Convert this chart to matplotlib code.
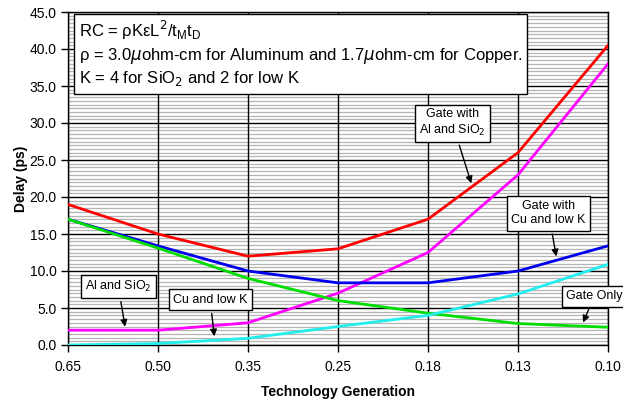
import matplotlib.pyplot as plt
import numpy as np
from matplotlib.ticker import MultipleLocator, FormatStrFormatter

plt.rcParams['font.family'] = ['Liberation Sans', 'DejaVu Sans']

generations = ['0.65', '0.50', '0.35', '0.25', '0.18', '0.13', '0.10']

gate_al_sio2 = [19.0, 15.0, 12.0, 13.0, 17.0, 26.0, 40.5]
al_sio2 = [2.0, 2.0, 3.0, 7.0, 12.5, 23.0, 38.0]
gate_cu_lowk = [17.0, 13.4, 10.0, 8.4, 8.4, 10.0, 13.4]
gate_only = [17.0, 13.1, 9.0, 6.0, 4.3, 2.9, 2.4]
cu_lowk = [0.0, 0.2, 0.9, 2.5, 4.0, 6.9, 10.9]

fig = plt.figure(figsize=(6.23, 4.0), dpi=100)
ax = fig.add_axes([0.109, 0.1375, 0.867, 0.8325])

x = np.arange(len(generations))

# grid: light minor lines every 0.5, black major lines
ax.yaxis.set_major_locator(MultipleLocator(5))
ax.yaxis.set_minor_locator(MultipleLocator(0.5))
ax.yaxis.set_major_formatter(FormatStrFormatter('%.1f'))
ax.grid(which='minor', axis='y', color='#b4b4b4', lw=0.9, zorder=0)
ax.grid(which='major', axis='y', color='black', lw=1.0, zorder=0.5)
for xi in x:
    ax.axvline(xi, color='black', lw=1.0, zorder=0.6)
ax.set_axisbelow(True)

ax.plot(x, gate_al_sio2, color='#ff0000', lw=2, zorder=3)
ax.plot(x, al_sio2, color='#ff00ff', lw=2, zorder=3)
ax.plot(x, gate_cu_lowk, color='#0000ee', lw=2, zorder=3)
ax.plot(x, gate_only, color='#00dd00', lw=2, zorder=3)
ax.plot(x, cu_lowk, color='#22eeee', lw=2, zorder=3)

ax.set_xlim(0, 6)
ax.set_ylim(0, 45)
ax.set_xticks(x)
ax.set_xticklabels(generations)
ax.tick_params(axis='both', which='major', direction='out', length=5, width=1,
               labelsize=10)
ax.tick_params(axis='x', pad=6)
ax.tick_params(axis='y', pad=3)
ax.tick_params(axis='y', which='minor', length=0)
for s in ax.spines.values():
    s.set_linewidth(1.0)

ax.set_xlabel('Technology Generation', fontsize=10, fontweight='bold', labelpad=8)
ax.set_ylabel('Delay (ps)', fontsize=10, fontweight='bold', labelpad=1)

box = dict(boxstyle='square,pad=0.35', fc='white', ec='black', lw=1)
ax.text(0.12, 44.0,
        'RC = ρKεL$^2$/t$_\\mathregular{M}$t$_\\mathregular{D}$\n'
        'ρ = 3.0$\\mathit{μ}$ohm-cm for Aluminum and 1.7$\\mathit{μ}$ohm-cm for Copper.\n'
        'K = 4 for SiO$_2$ and 2 for low K',
        fontsize=12, va='top', ha='left', linespacing=1.25, zorder=5,
        bbox=dict(boxstyle='square,pad=0.3', fc='white', ec='black', lw=1))

arrow = dict(arrowstyle='-|>', color='black', lw=1, mutation_scale=10)
ax.annotate('Gate with\nAl and SiO$_2$', xy=(4.49, 21.5), xytext=(4.27, 30.0),
            fontsize=9, ha='center', va='center', bbox=box, arrowprops=arrow, zorder=5)
ax.annotate('Gate with\nCu and low K', xy=(5.43, 11.6), xytext=(5.34, 17.8),
            fontsize=9, ha='center', va='center', bbox=box, arrowprops=arrow, zorder=5)
ax.annotate('Gate Only', xy=(5.71, 2.7), xytext=(5.85, 6.6),
            fontsize=9, ha='center', va='center', bbox=box, arrowprops=arrow, zorder=5)
ax.annotate('Al and SiO$_2$', xy=(0.64, 2.1), xytext=(0.56, 7.9),
            fontsize=9, ha='center', va='center', bbox=box, arrowprops=arrow, zorder=5)
ax.annotate('Cu and low K', xy=(1.63, 0.8), xytext=(1.58, 6.1),
            fontsize=9, ha='center', va='center', bbox=box, arrowprops=arrow, zorder=5)

fig.savefig('out.png', dpi=100)
